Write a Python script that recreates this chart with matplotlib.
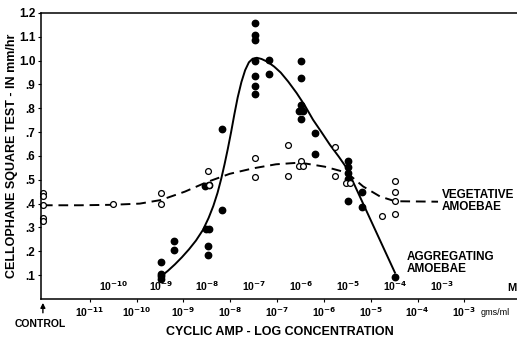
import matplotlib
matplotlib.use("Agg")
import numpy as np
import matplotlib.pyplot as plt

plt.rcParams['font.family'] = ['Liberation Sans', 'DejaVu Sans']
plt.rcParams['font.weight'] = 'bold'

# x values are log10 of molar concentration; control sits at the left edge
CONTROL_X = -11.52

# aggregating amoebae (filled)
agg_x = [-9.0, -9.0, -9.0, -9.0, -8.72, -8.72,
         -8.05, -7.97, -8.03, -7.97, -8.0, -8.0, -7.7, -7.7,
         -7.0, -7.0, -7.0, -7.0, -7.0, -7.0, -7.0, -6.7, -6.7,
         -6.0, -6.0, -6.04, -5.97, -6.0, -6.0, -5.7, -5.7,
         -5.0, -5.0, -5.0, -5.0, -5.0, -4.7, -4.7, -4.0]
agg_y = [0.155, 0.105, 0.095, 0.085, 0.244, 0.206,
         0.475, 0.48, 0.294, 0.294, 0.223, 0.185, 0.714, 0.374,
         1.158, 1.109, 1.085, 0.997, 0.934, 0.895, 0.86, 1.004, 0.945,
         1.0, 0.928, 0.79, 0.79, 0.815, 0.755, 0.696, 0.609,
         0.58, 0.555, 0.53, 0.505, 0.41, 0.447, 0.386, 0.094]

# vegetative amoebae (open)
veg_control = [0.445, 0.43, 0.395, 0.34, 0.325]
veg_x = [-10.03, -9.0, -9.0, -8.0, -7.97, -7.0, -7.0, -6.28, -6.28,
         -6.0, -6.04, -5.96, -5.29, -5.29, -5.04, -4.96, -4.27,
         -4.0, -4.0, -4.0, -4.0]
veg_y = [0.398, 0.444, 0.397, 0.535, 0.48, 0.591, 0.51, 0.647, 0.514,
         0.577, 0.556, 0.556, 0.636, 0.517, 0.487, 0.487, 0.346,
         0.493, 0.447, 0.409, 0.357]

# hand-drawn fit lines
agg_curve_x = [-9.0, -8.85, -8.7, -8.55, -8.4, -8.25, -8.1, -7.98, -7.88,
               -7.79, -7.71, -7.64, -7.57, -7.5, -7.43, -7.36, -7.28, -7.2,
               -7.12, -7.04, -6.95, -6.85, -6.72, -6.58, -6.44, -6.28, -6.1,
               -5.92, -5.75, -5.57, -5.39, -5.2, -5.03, -4.0]
agg_curve_y = [0.094, 0.118, 0.145, 0.175, 0.208, 0.245, 0.29, 0.34, 0.39,
               0.445, 0.505, 0.565, 0.63, 0.70, 0.775, 0.845, 0.91, 0.96,
               0.993, 1.008, 1.012, 1.007, 0.995, 0.975, 0.95, 0.912, 0.864,
               0.81, 0.752, 0.70, 0.647, 0.597, 0.549, 0.11]
veg_curve_x = [-11.52, -10.73, -10.03, -9.45, -9.0, -8.49, -8.02, -7.53,
               -7.03, -6.54, -6.03, -5.5, -5.03, -4.68, -4.32, -4.0, -3.08]
veg_curve_y = [0.393, 0.393, 0.395, 0.40, 0.415, 0.45, 0.49, 0.525,
               0.548, 0.565, 0.572, 0.555, 0.53, 0.472, 0.43, 0.41, 0.408]

y_ticks = [0.1, 0.2, 0.3, 0.4, 0.5, 0.6, 0.7, 0.8, 0.9, 1.0, 1.1, 1.2]
y_labels = ['.1', '.2', '.3', '.4', '.5', '.6', '.7', '.8', '.9', '1.0', '1.1', '1.2']
molar_exps = [-10, -9, -8, -7, -6, -5, -4, -3]
gml_exps = [-11, -10, -9, -8, -7, -6, -5, -4, -3]
MW = 329.2  # cyclic AMP, to place the gms/ml scale

fig = plt.figure(figsize=(5.17, 3.42), dpi=100)
ax = fig.add_axes([0.079, 0.126, 0.921, 0.836])

ax.plot(veg_curve_x, veg_curve_y, color='black', lw=1.4, ls=(0, (5, 3)))
ax.plot(agg_curve_x, agg_curve_y, color='black', lw=1.4)
ax.plot(agg_x, agg_y, 'o', color='black', ms=4.6)
ax.plot(veg_x, veg_y, 'o', mfc='white', mec='black', mew=0.9, ms=4.2)
ax.plot([CONTROL_X] * len(veg_control), veg_control, 'o', mfc='white',
        mec='black', mew=0.9, ms=4.2, clip_on=False)

ax.set_xlim(-11.564, -1.393)
ax.set_ylim(0, 1.2)
ax.spines['right'].set_visible(False)
for s in ['left', 'bottom', 'top']:
    ax.spines[s].set_linewidth(1.1)

ax.set_yticks(y_ticks)
ax.set_yticklabels(y_labels, fontsize=8.5)
ax.tick_params(axis='y', length=2, width=0.8, pad=2)

gml_pos = [e + 3 - np.log10(MW) for e in gml_exps]
ax.set_xticks(gml_pos)
ax.set_xticklabels(['10$^{%d}$' % e for e in gml_exps], fontsize=7.5)
ax.tick_params(axis='x', length=2.5, width=0.8, pad=2)

for e in molar_exps:
    ax.text(e, 0.025, '10$^{%d}$' % e, ha='center', va='bottom', fontsize=7.5)
ax.text(-1.5, 0.025, 'M', ha='center', va='bottom', fontsize=8)
ax.text(-1.86, -0.055, 'gms/ml', ha='center', va='center', fontsize=6.5,
        fontweight='normal')

ax.annotate('', xy=(CONTROL_X, -0.005), xytext=(CONTROL_X, -0.07),
            arrowprops=dict(arrowstyle='-|>', color='black', lw=1, mutation_scale=7),
            annotation_clip=False)
ax.text(CONTROL_X - 0.05, -0.085, 'CONTROL', ha='center', va='top', fontsize=7.5)

ax.text(-3.0, 0.41, 'VEGETATIVE\nAMOEBAE', ha='left', va='center', fontsize=8.5,
        linespacing=1.0)
ax.text(-3.74, 0.15, 'AGGREGATING\nAMOEBAE', ha='left', va='center', fontsize=8.5,
        linespacing=1.0)

fig.text(0.024, 0.545, 'CELLOPHANE SQUARE TEST - IN mm/hr', rotation=90,
         ha='center', va='center', fontsize=9)
fig.text(0.542, 0.03, 'CYCLIC AMP - LOG CONCENTRATION', ha='center', va='center',
         fontsize=9)

fig.savefig('out.png', dpi=100)
